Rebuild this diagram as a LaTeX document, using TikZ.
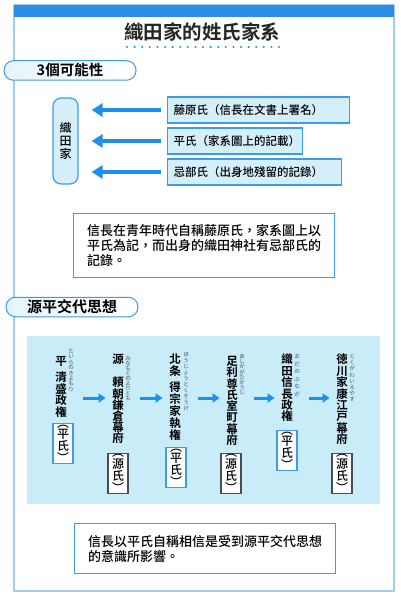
\documentclass[tikz,border=0pt]{standalone}
\usepackage{fontspec}
\usepackage{xcolor}
\usetikzlibrary{arrows.meta, positioning, calc}
\setmainfont{Noto Sans CJK TC}[BoldFont={Noto Sans CJK TC Bold}]
\newfontfamily\medfont{Noto Sans CJK TC Medium}

\definecolor{barblue}{RGB}{43,141,230}
\definecolor{arrowblue}{RGB}{30,144,235}
\definecolor{lineblue}{RGB}{60,155,235}
\definecolor{frameblue}{RGB}{160,205,240}
\definecolor{fillblue}{RGB}{212,238,250}
\definecolor{panelblue}{RGB}{200,236,248}
\definecolor{rubygray}{RGB}{70,80,105}

\begin{document}
\begin{tikzpicture}[x=1pt, y=-1pt,
    tab/.style={draw=lineblue, line width=1pt, rounded corners=9.5pt,
                left color=fillblue!60, right color=white,
                minimum width=132pt, minimum height=19.5pt, inner sep=0pt},
    srcbox/.style={draw=lineblue, line width=1.2pt, fill=fillblue, anchor=west,
                   minimum height=26pt, inner xsep=6pt, inner ysep=0pt, align=left,
                   font=\medfont\fontsize{11.5}{12}\selectfont},
    notebox/.style={draw=lineblue, line width=1.2pt, fill=white, anchor=north west,
                    inner xsep=13.5pt, text width=234pt, align=left,
                    font=\medfont\fontsize{13}{15}\selectfont},
    fatarrow/.style={draw=arrowblue, line width=4pt, -{Triangle[length=11pt, width=13pt]}},
    thinarrow/.style={draw=arrowblue, line width=3pt, -{Triangle[length=7pt, width=9pt]},
                      shorten <=9pt, shorten >=6.5pt},
    era/.style={inner sep=0pt, anchor=north, align=center},
    ruby/.style={inner sep=0pt, anchor=north, align=center, text=rubygray},
    clanbox/.style={draw=lineblue, fill=white, line width=1.3pt, anchor=north,
                    minimum width=20pt, minimum height=40pt, inner sep=0pt, align=center,
                    font=\medfont\fontsize{12}{10.5}\selectfont}]

\useasboundingbox (0,0) rectangle (400,596);
\fill[white] (0,0) rectangle (400,596);

% ── frame and title ────────────────────────────────────────────
\draw[frameblue, line width=1.2pt] (14,5) rectangle (394,591);
\fill[barblue] (14,5) rectangle (394,17);

\node[font=\bfseries\fontsize{19.5}{20}\selectfont, text=black!85] (title) at (202,32)
    {織田家的姓氏家系};
\coordinate (dotl) at (127,47);
\coordinate (dotr) at (279,47);
\draw[barblue, line width=2.3pt, line cap=round, dash pattern=on 0pt off 7.6pt] (dotl) -- (dotr);

% ── 3 possibilities ───────────────────────────────────────────
\node[tab, font=\bfseries\fontsize{14.5}{15}\selectfont] (tabthree) at (70,70.5) {3個可能性};

\node[draw=lineblue, fill=fillblue, line width=1.2pt, rounded corners=8pt,
      minimum width=25pt, minimum height=86pt, inner sep=0pt, align=center,
      font=\medfont\fontsize{12}{13}\selectfont] (oda) at (65.5,141) {織\\田\\家};

\node[srcbox, text width=170pt] (fujiwara) at (167,110) {藤原氏（信長在文書上署名）};
\node[srcbox, text width=123pt] (taira)    at (167,141) {平氏（家系圖上的記載）};
\node[srcbox, text width=162pt] (imbe)     at (167,172) {忌部氏（出身地殘留的記錄）};

\draw[fatarrow, shorten <=6pt, shorten >=13pt] (fujiwara.west) -- (oda.east |- fujiwara.west);
\draw[fatarrow, shorten <=6pt, shorten >=13pt] (taira.west) -- (oda.east |- taira.west);
\draw[fatarrow, shorten <=6pt, shorten >=13pt] (imbe.west) -- (oda.east |- imbe.west);

\node[notebox, minimum height=64pt] (note1) at (73,213)
    {信長在青年時代自稱藤原氏，家系圖上以\\平氏為記，而出身的織田神社有忌部氏的\\記錄。};

% ── Genpei alternation ────────────────────────────────────────
\node[tab, font=\bfseries\fontsize{15}{15}\selectfont] (tabgenpei) at (72,307) {源平交代思想};

\node[fill=panelblue, minimum width=353pt, minimum height=168pt, inner sep=0pt,
      anchor=north west] (panel) at (27,336) {};

% Taira no Kiyomori
\node[era, font=\bfseries\fontsize{11.5}{11}\selectfont] (c1a) at (61,356) {平};
\node[era, font=\bfseries\fontsize{11.5}{10.6}\selectfont] (c1b) at (61,372) {清\\盛\\政\\権};
\node[ruby, font=\fontsize{5.5}{5.4}\selectfont] (r1) at (71,349) {た\\い\\ら\\の\\き\\よ\\も\\り};
\node[clanbox] (k1) at (63,423) {︵\\平\\氏\\︶};

% Minamoto no Yoritomo
\node[era, font=\bfseries\fontsize{11.5}{11}\selectfont] (c2a) at (118,354) {源};
\node[era, font=\bfseries\fontsize{11.5}{11.2}\selectfont] (c2b) at (118,377) {頼\\朝\\鎌\\倉\\幕\\府};
\node[ruby, font=\fontsize{5.5}{5}\selectfont] (r2) at (128,356) {み\\な\\も\\と\\の\\よ\\り\\と\\も};
\node[clanbox, draw=black!70] (k2) at (118,453) {︵\\源\\氏\\︶};

% Hojo tokuso
\node[era, font=\bfseries\fontsize{11.5}{12}\selectfont] (c3a) at (175,354) {北\\条};
\node[era, font=\bfseries\fontsize{11.5}{11.8}\selectfont] (c3b) at (175,382) {得\\宗\\家\\執\\権};
\node[ruby, font=\fontsize{5.5}{6}\selectfont] (r3) at (186,352) {ほ\\う\\じ\\ょ\\う\\と\\く\\そ\\う\\け};
\node[clanbox] (k3) at (176,447) {︵\\平\\氏\\︶};

% Ashikaga Takauji
\node[era, font=\bfseries\fontsize{11.5}{11.3}\selectfont] (c4) at (232,356) {足\\利\\尊\\氏\\室\\町\\幕\\府};
\node[ruby, font=\fontsize{5.5}{5.2}\selectfont] (r4) at (242,354) {あ\\し\\か\\が\\た\\か\\う\\じ};
\node[clanbox, draw=black!70] (k4) at (231,453) {︵\\源\\氏\\︶};

% Oda Nobunaga
\node[era, font=\bfseries\fontsize{11.5}{11.4}\selectfont] (c5) at (287,354) {織\\田\\信\\長\\政\\権};
\node[ruby, font=\fontsize{5.5}{7.5}\selectfont] (r5) at (297,354) {お\\だ\\の\\ぶ\\な\\が};
\node[clanbox] (k5) at (287,430) {︵\\平\\氏\\︶};

% Tokugawa Ieyasu
\node[era, font=\bfseries\fontsize{11.5}{11.4}\selectfont] (c6) at (342,354) {徳\\川\\家\\康\\江\\戸\\幕\\府};
\node[ruby, font=\fontsize{5.5}{6.2}\selectfont] (r6) at (352,354) {と\\く\\が\\わ\\い\\え\\や\\す};
\node[clanbox, draw=black!70] (k6) at (342,453) {︵\\源\\氏\\︶};

\coordinate (arrowrow) at (0,398);
\foreach \a/\b in {r1/c2b, r2/c3b, r3/c4, r4/c5, r5/c6}
    \draw[thinarrow] (\a.east |- arrowrow) -- (\b.west |- arrowrow);

\node[notebox, minimum height=50pt] (note2) at (74,523)
    {信長以平氏自稱相信是受到源平交代思想\\的意識所影響。};

\end{tikzpicture}
\end{document}
